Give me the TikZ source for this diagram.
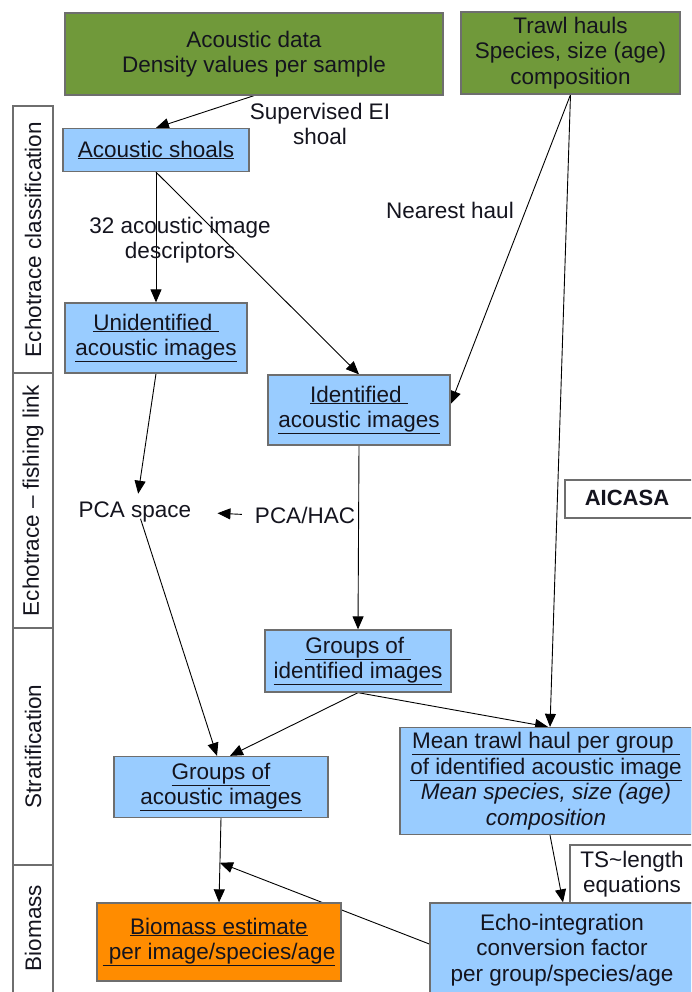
\documentclass[tikz,border=0pt]{standalone}
\usepackage{fontspec}
\setmainfont{Liberation Sans}
\usetikzlibrary{arrows.meta,calc,backgrounds}

\definecolor{olive}{RGB}{112,153,58}
\definecolor{skyfill}{RGB}{153,204,255}
\definecolor{orangefill}{RGB}{255,140,0}
\definecolor{edgegray}{RGB}{110,110,110}
\definecolor{ink}{RGB}{20,20,30}

\tikzset{
  base/.style={draw=edgegray, line width=1.3pt, inner sep=0pt, align=center,
               text=ink, font=\fontsize{22.5}{25.5}\selectfont},
  greenbox/.style={base, fill=olive},
  bluebox/.style={base, fill=skyfill},
  orangebox/.style={base, fill=orangefill},
  plainbox/.style={base, fill=white},
  lbl/.style={inner sep=0pt, align=center, text=ink,
              font=\fontsize{22.5}{25.5}\selectfont},
  sidebox/.style={draw=edgegray, line width=1.3pt, minimum width=40pt},
  sidetext/.style={rotate=90, inner sep=0pt, text=ink,
                   font=\fontsize{22.5}{25.5}\selectfont},
  arr/.style={line width=0.9pt, draw=black,
              -{Triangle[length=13pt,width=11pt]}},
  plain/.style={line width=0.9pt, draw=black}
}

\begin{document}
\begin{tikzpicture}[x=1pt,y=-1pt]
\useasboundingbox (0,0) rectangle (691,992);
\clip (0,0) rectangle (691,992);

% stage column on the left
\node[sidebox, minimum height=267pt] (s1) at (33,239.5) {};
\node[sidetext] at (s1.center) {Echotrace classification};
\node[sidebox, minimum height=255pt] (s2) at (33,500.5) {};
\node[sidetext] at (s2.center) {Echotrace -- fishing link};
\node[sidebox, minimum height=237pt] (s3) at (33,746.5) {};
\node[sidetext] at (s3.center) {Stratification};
\node[sidebox, minimum height=140pt] (s4) at (33,935) {};
\node[sidetext] at (33,928) {Biomass};

% data sources
\node[greenbox, minimum width=378pt, minimum height=82pt] (data) at (254,54)
  {Acoustic data\\Density values per sample};
\node[greenbox, minimum width=219pt, minimum height=82pt] (trawl) at (570.5,53)
  {Trawl hauls\\Species, size (age)\\composition};

% classification
\node[bluebox, minimum width=186pt, minimum height=43pt] (shoals) at (156,150)
  {\underline{Acoustic shoals}};
\node[lbl] (sup) at (320,124) {Supervised EI\\shoal};
\node[lbl] (desc) at (180,240) {32 acoustic image\\descriptors};
\node[lbl] (near) at (450,210) {Nearest haul};
\node[bluebox, minimum width=182pt, minimum height=70pt] (unid) at (156,338)
  {\underline{Unidentified }\\\underline{acoustic images}};
\node[bluebox, minimum width=182pt, minimum height=70pt] (ident) at (359,410)
  {\underline{Identified }\\\underline{acoustic images}};

% fishing link
\node[plainbox, minimum width=136pt, minimum height=38pt] (aicasa) at (633,499) {};
\node[lbl, font=\fontsize{22}{25}\selectfont\bfseries] at (627,498) {AICASA};
\node[lbl] (pca) at (135,512) {PCA space};
\node[lbl] (hac) at (305,515) {PCA/HAC};

% stratification
\node[bluebox, minimum width=186pt, minimum height=62pt] (gident) at (358,661)
  {\underline{Groups of }\\\underline{identified images}};
\node[bluebox, minimum width=214pt, minimum height=61pt] (gacou) at (221,787)
  {\underline{Groups of}\\\underline{acoustic images}};
\node[bluebox, minimum width=292pt, minimum height=107pt] (mean) at (546,781)
  {\underline{Mean trawl haul per group }\\\underline{of identified acoustic image}\\
   \itshape Mean species, size (age)\\\itshape composition};

% biomass
\node[plainbox, minimum width=124pt, minimum height=58pt] (ts) at (632,874)
  {TS\char`\~length\\equations};
\node[orangebox, minimum width=244pt, minimum height=78pt] (bio) at (219,942)
  {\underline{Biomass estimate}\\\underline{ per image/species/age}};
\node[bluebox, minimum width=264pt, minimum height=94pt] (echo) at (562,950)
  {Echo-integration\\conversion factor\\per group/species/age};

\coordinate (join) at ($(gacou.south)!0.53!(bio.north)$);

\begin{scope}[on background layer]
  \draw[arr] (data.south) -- (shoals.north);
  \draw[arr] (shoals.south) -- (unid.north);
  \draw[arr] (shoals.south) -- (ident.north);
  \draw[arr] (trawl.south) -- ($(ident.east)+(0,-6)$);
  \draw[arr] (trawl.south) -- ($(mean.north)+(4,0)$);
  \draw[arr, shorten >=8pt] (unid.south) -- ($(pca.north)+(2,0)$);
  \draw[arr, shorten <=13pt, shorten >=26pt] (hac.west) -- (pca.east);
  \draw[arr, shorten <=18pt] (pca.north) -- ($(gacou.north)+(-4,0)$);
  \draw[arr] (ident.south) -- (gident.north);
  \draw[arr] (gident.south) -- ($(gacou.north)+(9,0)$);
  \draw[arr] (gident.south) -- ($(mean.north)+(2,0)$);
  \draw[arr] (gacou.south) -- (bio.north);
  \draw[arr] ($(mean.south)+(4,0)$) -- ($(echo.north)+(1,0)$);
  \draw[arr] ($(echo.west)+(0,-6)$) -- (join);
\end{scope}
\end{tikzpicture}
\end{document}
